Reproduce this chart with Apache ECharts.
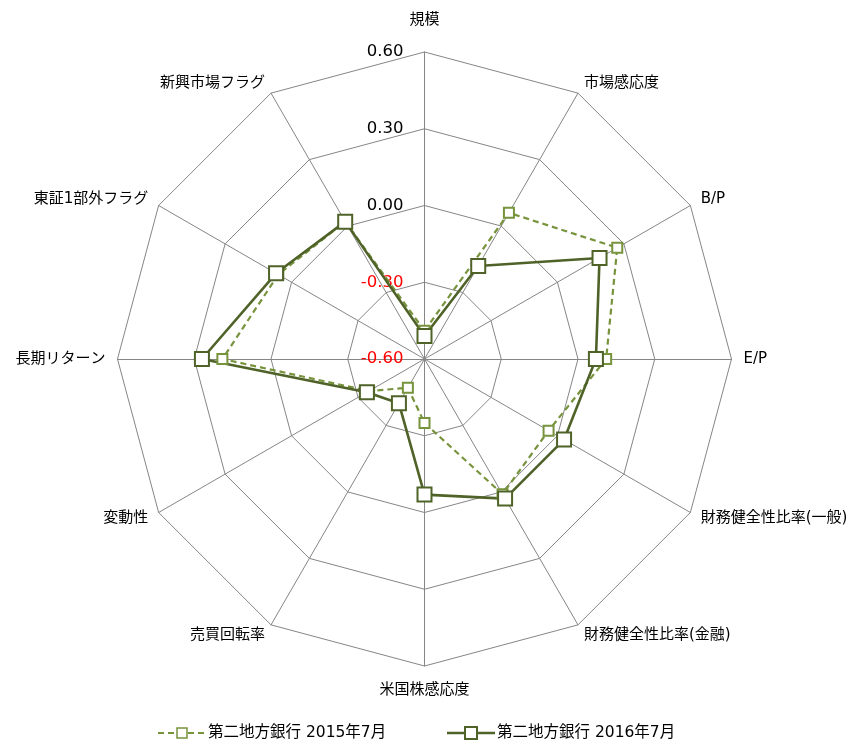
<!DOCTYPE html>
<html>
<head>
<meta charset="utf-8">
<script src="https://cdn.jsdelivr.net/npm/echarts@6/dist/echarts.min.js"></script>
<style>
  html, body { margin: 0; padding: 0; background: #fff; }
  #chart { width: 853px; height: 742px; }
</style>
</head>
<body>
<div id="chart"></div>
<script>
// Factor names, clockwise from the top
const factors = [
  '規模', '市場感応度', 'B/P', 'E/P', '財務健全性比率(一般)', '財務健全性比率(金融)',
  '米国株感応度', '売買回転率', '変動性', '長期リターン', '東証1部外フラグ', '新興市場フラグ'
];

// Factor exposures of each period (same order as factors)
const seriesNames = ['第二地方銀行 2015年7月', '第二地方銀行 2016年7月'];
const exposure2015 = [-0.49, 0.06, 0.27, 0.11, -0.04, 0.01, -0.35, -0.47, -0.35, 0.19, 0.06, 0.02];
const exposure2016 = [-0.51, -0.18, 0.19, 0.07, 0.03, 0.03, -0.07, -0.40, -0.34, 0.27, 0.07, 0.02];

// Scale of every spoke
const scaleMin = -0.6;
const scaleMax = 0.6;
const scaleSteps = 4;

const FONT = "'DejaVu Sans', 'Noto Sans CJK JP', sans-serif";
const GRID = '#868686';
const LIGHT = '#77933C';
const DARK = '#4F6228';

// ECharts lays spokes out counter-clockwise, so walk the factors backwards
// after the first one to get a clockwise chart.
const order = factors.map((_, i) => (i === 0 ? 0 : factors.length - i));
const pick = arr => order.map(i => arr[i]);

const indicator = order.map(i => {
  const item = { name: factors[i], min: scaleMin, max: scaleMax };
  if (i === 0) {
    item.nameGap = 24;
    item.axisLabel = {
      show: true,
      fontFamily: FONT,
      fontSize: 16.5,
      margin: 21,
      formatter: v => {
        const s = Number(v).toFixed(2);
        return Number(v) < 0 ? '{neg|' + s + '}' : '{pos|' + s + '}';
      },
      rich: {
        pos: { color: '#000', fontFamily: FONT, fontSize: 16.5 },
        neg: { color: '#FF0000', fontFamily: FONT, fontSize: 16.5 }
      }
    };
  }
  if (i === 6) item.nameGap = 17;
  return item;
});

const chart = echarts.init(document.getElementById('chart'), null, { renderer: 'canvas' });

chart.setOption({
  backgroundColor: '#fff',
  animation: false,
  radar: {
    center: [424.5, 359],
    radius: 307,
    shape: 'polygon',
    startAngle: 90,
    splitNumber: scaleSteps,
    indicator: indicator,
    axisName: { color: '#000', fontFamily: FONT, fontSize: 15 },
    nameGap: 12,
    axisLine: { lineStyle: { color: GRID, width: 1 } },
    splitLine: { lineStyle: { color: GRID, width: 1 } },
    splitArea: { show: false },
    axisTick: { show: false },
    axisLabel: { show: false }
  },
  series: [{
    type: 'radar',
    z: 2,
    data: [
      {
        name: seriesNames[0],
        value: pick(exposure2015),
        symbol: 'emptyRect',
        symbolSize: 10,
        lineStyle: { color: LIGHT, width: 2.2, type: [6, 4] },
        itemStyle: { color: LIGHT, borderColor: LIGHT, borderWidth: 1.5 }
      },
      {
        name: seriesNames[1],
        value: pick(exposure2016),
        symbol: 'emptyRect',
        symbolSize: 14,
        lineStyle: { color: DARK, width: 2.6, type: 'solid' },
        itemStyle: { color: DARK, borderColor: DARK, borderWidth: 2 }
      }
    ]
  }],
  graphic: [
    // legend entry: dashed line with small open square
    { type: 'line', shape: { x1: 158, y1: 733, x2: 205, y2: 733 },
      style: { stroke: LIGHT, lineWidth: 2.2, lineDash: [6, 4] } },
    { type: 'rect', shape: { x: 177, y: 728, width: 10, height: 10 },
      style: { fill: '#fff', stroke: LIGHT, lineWidth: 1.5 } },
    { type: 'text', x: 208, y: 733,
      style: { text: seriesNames[0], fill: '#000', font: '15.5px ' + FONT, textVerticalAlign: 'middle' } },
    // legend entry: solid line with larger open square
    { type: 'line', shape: { x1: 447, y1: 733, x2: 495, y2: 733 },
      style: { stroke: DARK, lineWidth: 2.6 } },
    { type: 'rect', shape: { x: 465, y: 727, width: 12, height: 12 },
      style: { fill: '#fff', stroke: DARK, lineWidth: 2 } },
    { type: 'text', x: 497, y: 733,
      style: { text: seriesNames[1], fill: '#000', font: '15.5px ' + FONT, textVerticalAlign: 'middle' } }
  ]
});
</script>
</body>
</html>
